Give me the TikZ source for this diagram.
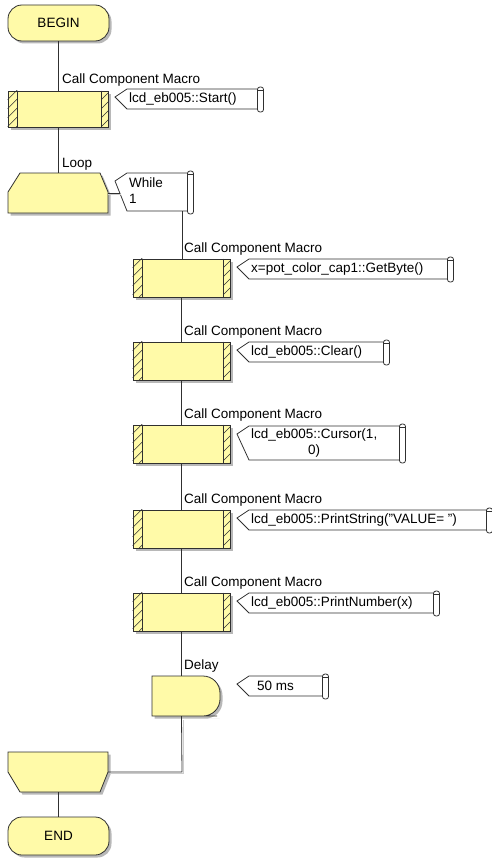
\documentclass[tikz,border=0pt]{standalone}
\usepackage{fontspec}
\setmainfont{Liberation Sans}
\usetikzlibrary{shadows}
\definecolor{fy}{HTML}{FFFAA8}
\definecolor{ln}{HTML}{303030}
\newcommand\hatchbox[1]{%
  \draw[conn] ([xshift=10pt]#1.north west) -- ([xshift=10pt]#1.south west);
  \draw[conn] ([xshift=-7pt]#1.north east) -- ([xshift=-7pt]#1.south east);
  \begin{scope}
    \clip (#1.north west) rectangle ([xshift=10pt]#1.south west);
    \foreach \k in {1,...,5} \draw[conn,line width=0.6pt] ([yshift={-\k*9pt}]#1.north west) -- ++(12pt,12pt);
  \end{scope}
  \begin{scope}
    \clip ([xshift=-7pt]#1.north east) rectangle (#1.south east);
    \foreach \k in {1,...,5} \draw[conn,line width=0.6pt] ([xshift=-7pt,yshift={-\k*9pt}]#1.north east) -- ++(12pt,12pt);
  \end{scope}
}
\newcommand\cmt[6]{% name, L, T, B, R, text
  \draw[conn,fill=white] ({#2+12},#3) -- (#5,#3) -- (#5,#4) -- ({#2+12},#4) -- (#2,{#3+8}) -- cycle;
  \draw[conn,fill=white,rounded corners=2.5pt] ({#5-0.5},{#3-2}) rectangle ({#5+5.5},{#4+3});
  \draw[conn,line width=0.5pt] ({#5-0.5},{#3+1.5}) -- ({#5+5.5},{#3+1.5});
  \node[anchor=west,inner sep=0pt,align=center] (#1) at ({#2+14},{(#3+#4)/2}) {#6};
}
\begin{document}
\begin{tikzpicture}[x=1pt,y=-1pt,
  font=\fontsize{13.5}{16}\selectfont,
  conn/.style={draw=ln,line width=0.8pt},
  shd/.style={fill=black!28},
  lshd/.style={draw=black!20,line width=1pt},
  dshadow/.style={drop shadow={shadow xshift=2.5pt,shadow yshift=-2.5pt,fill=black!28,opacity=1}},
  term/.style={draw=ln,fill=fy,line width=0.8pt,rounded corners=14pt,minimum width=101pt,minimum height=36pt,inner sep=0pt,dshadow},
  macro/.style={draw=ln,fill=fy,line width=0.8pt,minimum width=100pt,minimum height=36pt,inner sep=0pt,dshadow},
  imacro/.style={macro,minimum width=97pt,minimum height=38pt},
  ghost/.style={draw=none,inner sep=0pt},
  lbl/.style={anchor=south west,inner sep=0pt}]
\useasboundingbox (0,0) rectangle (492,859);

% ---------- nodes ----------
\node[term] (begin) at (58.5,23) {BEGIN};
\node[macro] (m1) at (58,109) {};
\node[ghost,minimum width=100pt,minimum height=40pt] (loop) at (58,193) {};
\node[imacro] (b1) at (181.5,278) {};
\node[imacro] (b2) at (181.5,361) {};
\node[imacro] (b3) at (181.5,444) {};
\node[imacro] (b4) at (181.5,529) {};
\node[imacro] (b5) at (181.5,612) {};
\node[ghost,minimum width=68pt,minimum height=40pt] (delay) at (186,696) {};
\node[ghost,minimum width=100pt,minimum height=40pt] (lend) at (58,772) {};
\node[term,minimum height=38pt] (end) at (58.5,836) {END};

% ---------- loop shapes ----------
\fill[shd,shift={(2.5,2.5)}] (20,173) -- (100,173) -- (108,192) -- (108,213) -- (8,213) -- (8,192) -- cycle;
\draw[conn,fill=fy] (20,173) -- (100,173) -- (108,192) -- (108,213) -- (8,213) -- (8,192) -- cycle;
\fill[shd,shift={(2.5,2.5)}] (8,752) -- (108,752) -- (108,772) -- (100,792) -- (20,792) -- (8,772) -- cycle;
\draw[conn,fill=fy] (8,752) -- (108,752) -- (108,772) -- (100,792) -- (20,792) -- (8,772) -- cycle;
% delay shape
\fill[shd,shift={(2.5,2.5)}] (152,676) -- (200,676) [rounded corners=17pt] -- (220,676) -- (220,716) -- (200,716) [sharp corners] -- (152,716) -- cycle;
\draw[conn,fill=fy] (152,676) -- (200,676) [rounded corners=17pt] -- (220,676) -- (220,716) -- (200,716) [sharp corners] -- (152,716) -- cycle;

% hatches
\hatchbox{m1}
\hatchbox{b1}
\hatchbox{b2}
\hatchbox{b3}
\hatchbox{b4}
\hatchbox{b5}

% ---------- comments ----------
\cmt{c0}{115}{89}{109}{258}{lcd\_eb005::Start()}
\cmt{cw}{115}{173}{211}{188}{\begin{tabular}{@{}l@{}}While\\1\end{tabular}}
\cmt{c1}{237}{259}{279}{448}{x=pot\_color\_cap1::GetByte()}
\cmt{c2}{237}{342}{362}{384}{lcd\_eb005::Clear()}
\cmt{c3}{237}{426}{460}{400}{lcd\_eb005::Cursor(1,\\0)}
\cmt{c4}{237}{510}{530}{487}{lcd\_eb005::PrintString("VALUE= ")}
\cmt{c5}{237}{593}{613}{434}{lcd\_eb005::PrintNumber(x)}
\cmt{cd}{237}{676}{696}{323}{\hspace*{6pt}50 ms}
\coordinate (wpt) at (120,193);
\coordinate (wbot) at (182,211);
\coordinate (ret) at (182,772);

% ---------- connectors ----------
\draw[conn] (begin.south) -- (begin.south |- m1.north);
\draw[conn] (m1.south) -- (m1.south |- loop.north);
\draw[lshd] (108,194.8) -- (121,194.8);
\draw[conn] (loop.east) -- (wpt);
\draw[conn] (wbot) -- (wbot |- b1.north);
\draw[conn] (b1.south) -- (b2.north);
\draw[conn] (b2.south) -- (b3.north);
\draw[conn] (b3.south) -- (b4.north);
\draw[conn] (b4.south) -- (b5.north);
\draw[conn] (b5.south) -- (b5.south |- delay.north);
\draw[lshd] (110,773.8) -- (183.8,773.8) -- (183.8,720);
\draw[conn] (b5.south |- delay.south) -- (ret) -- (lend.east);
\draw[conn] (lend.south) -- (lend.south |- end.north);

% ---------- labels ----------
\node[lbl] (l1) at (62,87) {Call Component Macro};
\node[lbl] (l2) at (62,170) {Loop};
\node[lbl] (l3) at (184,255) {Call Component Macro};
\node[lbl] (l4) at (184,338) {Call Component Macro};
\node[lbl] (l5) at (184,421) {Call Component Macro};
\node[lbl] (l6) at (184,506) {Call Component Macro};
\node[lbl] (l7) at (184,589) {Call Component Macro};
\node[lbl] (l8) at (184,672) {Delay};
\end{tikzpicture}
\end{document}
